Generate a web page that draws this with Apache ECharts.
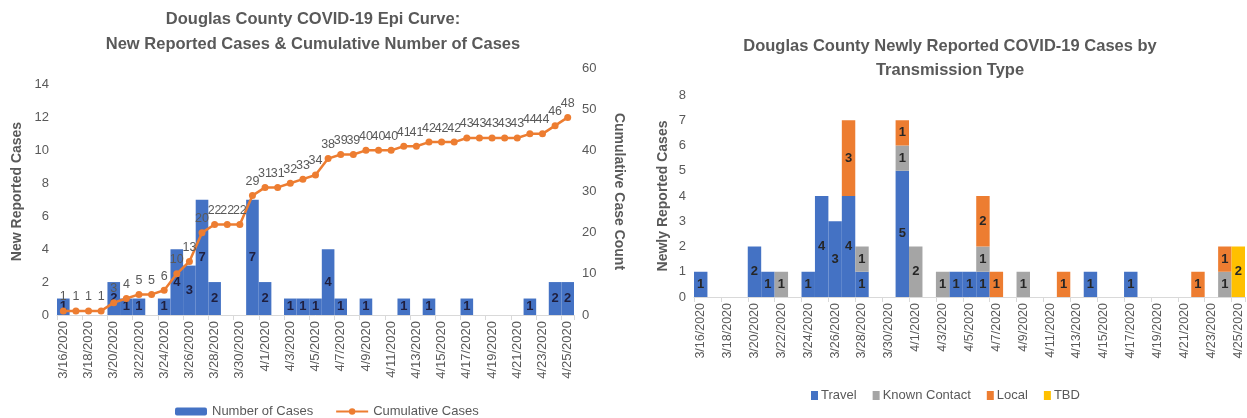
<!DOCTYPE html>
<html>
<head>
<meta charset="utf-8">
<script src="https://cdn.jsdelivr.net/npm/echarts@6/dist/echarts.min.js"></script>
<style>
  html, body { margin: 0; padding: 0; background: #fff; }
  #chart { width: 1247px; height: 418px; }
</style>
</head>
<body>
<div id="chart"></div>
<script>
const dates = [
  '3/16/2020', '3/17/2020', '3/18/2020', '3/19/2020', '3/20/2020', '3/21/2020', '3/22/2020',
  '3/23/2020', '3/24/2020', '3/25/2020', '3/26/2020', '3/27/2020', '3/28/2020', '3/29/2020',
  '3/30/2020', '3/31/2020', '4/1/2020', '4/2/2020', '4/3/2020', '4/4/2020', '4/5/2020',
  '4/6/2020', '4/7/2020', '4/8/2020', '4/9/2020', '4/10/2020', '4/11/2020', '4/12/2020',
  '4/13/2020', '4/14/2020', '4/15/2020', '4/16/2020', '4/17/2020', '4/18/2020', '4/19/2020',
  '4/20/2020', '4/21/2020', '4/22/2020', '4/23/2020', '4/24/2020', '4/25/2020'
]

// left chart
const newCases = [
  1, 0, 0, 0, 2, 1, 1, 0, 1, 4, 3, 7, 2, 0, 0, 7, 2, 0, 1, 1, 1,
  4, 1, 0, 1, 0, 0, 1, 0, 1, 0, 0, 1, 0, 0, 0, 0, 1, 0, 2, 2
]
const cumulative = [
  1, 1, 1, 1, 3, 4, 5, 5, 6, 10, 13, 20, 22, 22, 22, 29, 31, 31, 32, 33, 34,
  38, 39, 39, 40, 40, 40, 41, 41, 42, 42, 42, 43, 43, 43, 43, 43, 44, 44, 46, 48
]

// right chart, by transmission type
const travel = [
  1, 0, 0, 0, 2, 1, 0, 0, 1, 4, 3, 4, 1, 0, 0, 5, 0, 0, 0, 1, 1,
  1, 0, 0, 0, 0, 0, 0, 0, 1, 0, 0, 1, 0, 0, 0, 0, 0, 0, 0, 0
]
const knownContact = [
  0, 0, 0, 0, 0, 0, 1, 0, 0, 0, 0, 0, 1, 0, 0, 1, 2, 0, 1, 0, 0,
  1, 0, 0, 1, 0, 0, 0, 0, 0, 0, 0, 0, 0, 0, 0, 0, 0, 0, 1, 0
]
const local = [
  0, 0, 0, 0, 0, 0, 0, 0, 0, 0, 0, 3, 0, 0, 0, 1, 0, 0, 0, 0, 0,
  2, 1, 0, 0, 0, 0, 1, 0, 0, 0, 0, 0, 0, 0, 0, 0, 1, 0, 1, 0
]
const tbd = [
  0, 0, 0, 0, 0, 0, 0, 0, 0, 0, 0, 0, 0, 0, 0, 0, 0, 0, 0, 0, 0,
  0, 0, 0, 0, 0, 0, 0, 0, 0, 0, 0, 0, 0, 0, 0, 0, 0, 0, 0, 2
]

const FONT = 'Liberation Sans'
const GREY = '#595959'
const BLUE = '#4472C4'
const ORANGE = '#ED7D31'

const hideZero = p => (p.value ? p.value : '')

function catAxis(gridIndex, fontSize) {
  return {
    type: 'category',
    gridIndex,
    data: dates,
    axisLine: { lineStyle: { color: '#D9D9D9' } },
    axisTick: { show: true, interval: 1, lineStyle: { color: '#D9D9D9' } },
    axisLabel: {
      rotate: 90,
      interval: 1,
      color: GREY,
      fontFamily: FONT,
      fontSize,
      margin: 6
    }
  }
}

function valAxis(gridIndex, opts) {
  return {
    type: 'value',
    gridIndex,
    nameLocation: 'middle',
    nameTextStyle: { color: GREY, fontFamily: FONT, fontSize: 14, fontWeight: 'bold' },
    axisLine: { show: false },
    axisTick: { show: false },
    splitLine: { show: false },
    axisLabel: { color: GREY, fontFamily: FONT, fontSize: 13 },
    ...opts
  }
}

function stackBar(name, data, color) {
  return {
    name,
    type: 'bar',
    stack: 'type',
    xAxisIndex: 1,
    yAxisIndex: 2,
    data,
    barCategoryGap: '0%',
    itemStyle: { color },
    label: {
      show: true,
      position: 'inside',
      formatter: hideZero,
      color: '#262626',
      fontFamily: FONT,
      fontSize: 13,
      fontWeight: 'bold'
    }
  }
}

const chart = echarts.init(document.getElementById('chart'))
chart.setOption({
  animation: false,
  textStyle: { fontFamily: FONT },
  title: [
    {
      text: 'Douglas County COVID-19 Epi Curve:\nNew Reported Cases & Cumulative Number of Cases',
      left: 308,
      top: 2,
      textAlign: 'center',
      textStyle: { color: GREY, fontSize: 16.5, fontWeight: 'bold', lineHeight: 25, fontFamily: FONT }
    },
    {
      text: 'Douglas County Newly Reported COVID-19 Cases by\nTransmission Type',
      left: 945,
      top: 29,
      textAlign: 'center',
      textStyle: { color: GREY, fontSize: 16.5, fontWeight: 'bold', lineHeight: 24, fontFamily: FONT }
    }
  ],
  legend: [
    {
      data: ['Number of Cases', 'Cumulative Cases'],
      left: 170,
      top: 400,
      itemGap: 22,
      itemWidth: 32,
      itemHeight: 8,
      textStyle: { color: GREY, fontSize: 13, fontFamily: FONT }
    },
    {
      data: ['Travel', 'Known Contact', 'Local', 'TBD'],
      left: 806,
      top: 384,
      itemGap: 16,
      itemWidth: 7,
      itemHeight: 9,
      icon: 'rect',
      textStyle: { color: GREY, fontSize: 13, fontFamily: FONT, padding: [0, 0, 0, -2] }
    }
  ],
  grid: [
    { left: 57, right: 673, top: 68, bottom: 103 },
    { left: 694, right: 2, top: 95, bottom: 121 }
  ],
  xAxis: [catAxis(0, 13), catAxis(1, 12.5)],
  yAxis: [
    valAxis(0, {
      name: 'New Reported Cases',
      nameGap: 33,
      min: 0,
      max: 15,
      interval: 2,
      axisLabel: { color: GREY, fontFamily: FONT, fontSize: 13, showMaxLabel: false }
    }),
    valAxis(0, {
      name: 'Cumulative Case Count',
      nameGap: 38,
      nameRotate: -90,
      position: 'right',
      min: 0,
      max: 60,
      interval: 10
    }),
    valAxis(1, {
      name: 'Newly Reported Cases',
      nameGap: 24,
      min: 0,
      max: 8,
      interval: 1
    })
  ],
  series: [
    {
      name: 'Number of Cases',
      type: 'bar',
      xAxisIndex: 0,
      yAxisIndex: 0,
      data: newCases,
      barCategoryGap: '0%',
      itemStyle: { color: BLUE },
      label: {
        show: true,
        position: 'inside',
        formatter: hideZero,
        color: '#1F1F3F',
        fontFamily: FONT,
        fontSize: 13,
        fontWeight: 'bold'
      }
    },
    {
      name: 'Cumulative Cases',
      type: 'line',
      xAxisIndex: 0,
      yAxisIndex: 1,
      data: cumulative,
      symbol: 'circle',
      symbolSize: 7,
      lineStyle: { color: ORANGE, width: 2.5 },
      itemStyle: { color: ORANGE },
      label: {
        show: true,
        position: 'top',
        distance: 4,
        color: GREY,
        fontFamily: FONT,
        fontSize: 12.5
      }
    },
    stackBar('Travel', travel, BLUE),
    stackBar('Known Contact', knownContact, '#A5A5A5'),
    stackBar('Local', local, ORANGE),
    stackBar('TBD', tbd, '#FFC000')
  ]
})
</script>
</body>
</html>
